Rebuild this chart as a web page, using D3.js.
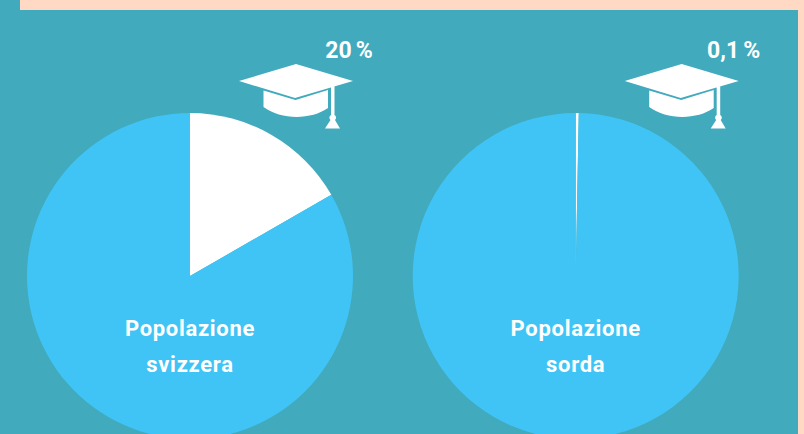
<!DOCTYPE html>
<html>
<head>
<meta charset="utf-8">
<script src="https://cdn.jsdelivr.net/npm/d3@7"></script>
<style>
html,body{margin:0;padding:0;background:#41aabd;}
svg{display:block;}
text{font-family:Roboto,"Noto Sans",sans-serif;font-weight:700;fill:#fff;text-anchor:middle;}
</style>
</head>
<body>
<svg id="chart" width="804" height="434"></svg>
<script>
var groups = ["Popolazione svizzera","Popolazione sorda"];
var nameLines = [["Popolazione","svizzera"],["Popolazione","sorda"]];
var percentLabels = ["20 %","0,1 %"];
// share of the white slice as it is drawn in the picture, not as labelled
var drawnShare = [16.7,0.3];

var svg = d3.select("#chart"),
    width = +svg.attr("width"),
    height = +svg.attr("height"),
    radius = 163,
    cy = 276;

var x = d3.scalePoint().domain(groups).range([190,575.7]);

svg.append("rect").attr("x",0).attr("y",0).attr("width",width).attr("height",height).attr("fill","#41aabd");
svg.append("rect").attr("x",20).attr("y",0).attr("width",width-20).attr("height",10).attr("fill","#ffd9c4");
svg.append("rect").attr("x",798).attr("y",0).attr("width",6).attr("height",height).attr("fill","#ffd9c4");

var pie = d3.pie().sort(null);
var arc = d3.arc().innerRadius(0).outerRadius(radius);

var g = svg.selectAll(".group")
    .data(groups)
    .enter().append("g")
      .attr("class","group")
      .attr("transform",function(d){ return "translate("+x(d)+","+cy+")"; });

g.selectAll("path.slice")
    .data(function(d,i){ return pie([drawnShare[i],100-drawnShare[i]]); })
    .enter().append("path")
      .attr("class","slice")
      .attr("d",arc)
      .attr("fill",function(d,i){ return i==0 ? "#ffffff" : "#40c4f5"; });

g.each(function(d,i){
  var sel = d3.select(this);
  nameLines[i].forEach(function(t,j){
    sel.append("text")
      .attr("x",0)
      .attr("y",60+j*36)
      .style("font-size","22px")
      .style("letter-spacing","0.7px")
      .text(t);
  });
  sel.append("text")
    .attr("x",i==0 ? 159 : 158)
    .attr("y",-218.5)
    .style("font-size","23px")
    .style("word-spacing","-1.5px")
    .text(percentLabels[i]);

  // graduation cap
  var cap = sel.append("g").attr("transform","translate(106,0)");
  cap.append("path")
    .attr("d","M-32.5,-185.5 L-0.5,-176 L32,-186 L32,-168 C15,-156 -15,-156 -32.5,-169 Z")
    .attr("fill","#fff");
  cap.append("path")
    .attr("d","M-57,-195 L0,-212 L57,-195 L-1,-178 Z")
    .attr("fill","#fff");
  cap.append("path")
    .attr("d","M35,-189 L38.5,-190 L38.5,-161 A3,3 0 0 1 39,-156 L44,-147.5 L29,-147.5 L34.5,-156 A3,3 0 0 1 35,-161 Z")
    .attr("fill","#fff");
});
</script>
</body>
</html>
